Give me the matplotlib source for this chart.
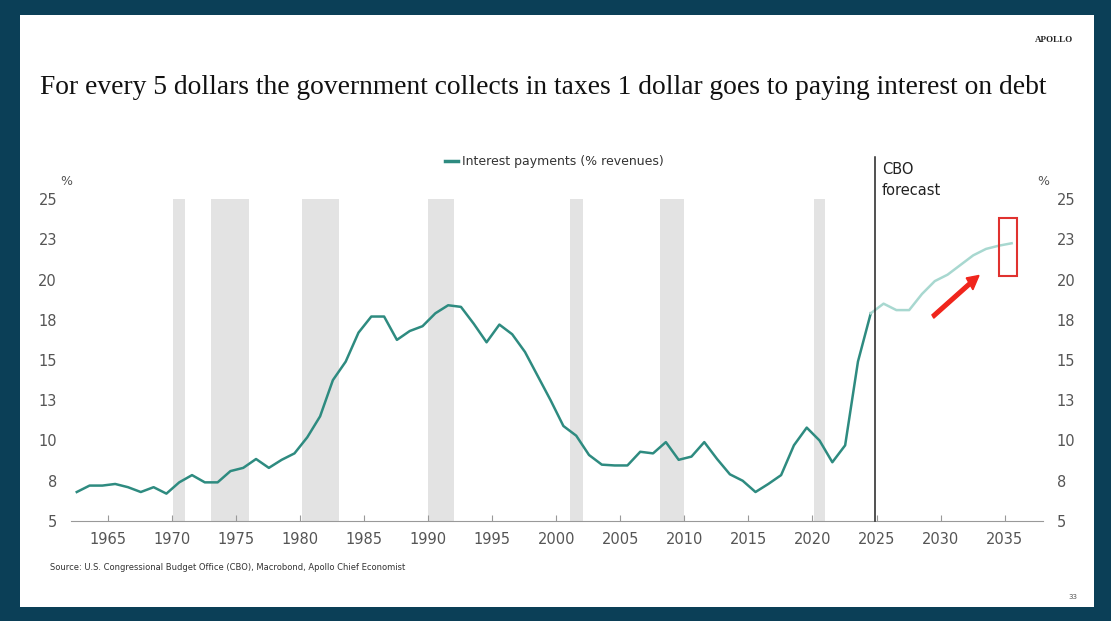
import matplotlib.pyplot as plt
from matplotlib.patches import Rectangle, FancyArrow

years = list(range(1962, 2036))
interest = [6.8, 7.2, 7.2, 7.3, 7.1, 6.8, 7.1, 6.7, 7.4, 7.85,
            7.4, 7.4, 8.1, 8.3, 8.85, 8.3, 8.8, 9.2, 10.2, 11.5,
            13.75, 14.9, 16.7, 17.7, 17.7, 16.25, 16.8, 17.1, 17.9, 18.4,
            18.3, 17.25, 16.1, 17.2, 16.6, 15.5, 14.0, 12.5, 10.9, 10.3,
            9.1, 8.5, 8.45, 8.45, 9.3, 9.2, 9.9, 8.8, 9.0, 9.9,
            8.85, 7.9, 7.5, 6.8, 7.3, 7.85, 9.7, 10.8, 10.0, 8.65,
            9.7, 14.9, 17.9, 18.5, 18.1, 18.1, 19.1, 19.9, 20.3, 20.9,
            21.5, 21.9, 22.1, 22.25]
last_actual = 2024
recessions = [(1970.1, 1971.0), (1973.05, 1976.0), (1980.1, 1983.0), (1990.0, 1992.0),
              (2001.1, 2002.1), (2008.1, 2010.0), (2020.1, 2021.0)]
yticks = [5, 7.5, 10, 12.5, 15, 17.5, 20, 22.5, 25]
ytick_labels = ['5', '8', '10', '13', '15', '18', '20', '23', '25']
xticks = list(range(1965, 2040, 5))

navy = '#0b3f57'
teal = '#2e8b80'
light = '#a8d8d0'
grey = '#555555'

fig = plt.figure(figsize=(11.11, 6.21), dpi=100, facecolor=navy)
fig.patches.append(Rectangle((20 / 1111, 14 / 621), 1074 / 1111, 592 / 621,
                             transform=fig.transFigure, facecolor='white', edgecolor='none', zorder=-10))

ax = fig.add_axes([71 / 1111, 1 - 521 / 621, 972 / 1111, 322 / 621])
ax.set_zorder(2)
ax.set_facecolor('none')

for a, b in recessions:
    ax.axvspan(a, b, ymin=0, ymax=1, color='#e3e3e3', lw=0, zorder=0)

off = 0.55
n = years.index(last_actual) + 1
xs = [y + off for y in years]
ax.plot(xs[:n], interest[:n], color=teal, lw=1.8, zorder=3)
ax.plot(xs[n - 1:], interest[n - 1:], color=light, lw=1.8, zorder=3)

ax.set_xlim(1962.1, 2038.0)
ax.set_ylim(5, 25)
ax.set_yticks(yticks)
ax.set_yticklabels(ytick_labels)
ax.set_xticks(xticks)
ax.tick_params(axis='x', direction='in', length=4, color='#999999', labelsize=10.5, labelcolor=grey, pad=8)
ax.tick_params(axis='y', length=0, labelsize=10.5, labelcolor=grey, pad=10,
               labelleft=True, labelright=True)
for s in ['top', 'left', 'right']:
    ax.spines[s].set_visible(False)
ax.spines['bottom'].set_color('#999999')

# forecast divider
ax.plot([2024.9, 2024.9], [5, 27.6], color='#222222', lw=1.1, clip_on=False, zorder=4)
ax.text(2025.4, 27.3, 'CBO\nforecast', fontsize=10.5, color='#222222', va='top', ha='left', linespacing=1.5)

ax.add_patch(Rectangle((2034.6, 20.2), 1.4, 3.65, fill=False, edgecolor='#e0322f', lw=1.5, zorder=5))
ax.add_patch(FancyArrow(2029.4, 17.7, 3.6, 2.55, width=0.25, head_width=0.9, head_length=0.9,
                        length_includes_head=True, color='#f0251c', zorder=5))

ax.text(-0.005, 1.045, '%', transform=ax.transAxes, fontsize=9, color=grey, ha='center')
ax.text(1.0, 1.045, '%', transform=ax.transAxes, fontsize=9, color=grey, ha='center')

# legend
fig.lines.append(plt.Line2D([445 / 1111, 458 / 1111], [1 - 161 / 621, 1 - 161 / 621],
                            transform=fig.transFigure, color=teal, lw=2.5))
fig.text(462 / 1111, 1 - 161 / 621, 'Interest payments (% revenues)', fontsize=9, color='#333333', va='center')

fig.text(40 / 1111, 1 - 88 / 621,
         'For every 5 dollars the government collects in taxes 1 dollar goes to paying interest on debt',
         family='Liberation Serif', fontsize=19.8, color='#111111', va='center')
fig.text(1073 / 1111, 1 - 40 / 621, 'APOLLO', family='Liberation Serif', fontsize=6.5,
         color='#222222', ha='right', va='center', fontweight='bold')
fig.text(50 / 1111, 1 - 567 / 621,
         'Source: U.S. Congressional Budget Office (CBO), Macrobond, Apollo Chief Economist',
         fontsize=6, color='#333333', va='center')
fig.text(1068 / 1111, 1 - 597 / 621, '33', fontsize=5, color='#555555', va='center')

fig.savefig('out.png', dpi=100, facecolor=navy)
